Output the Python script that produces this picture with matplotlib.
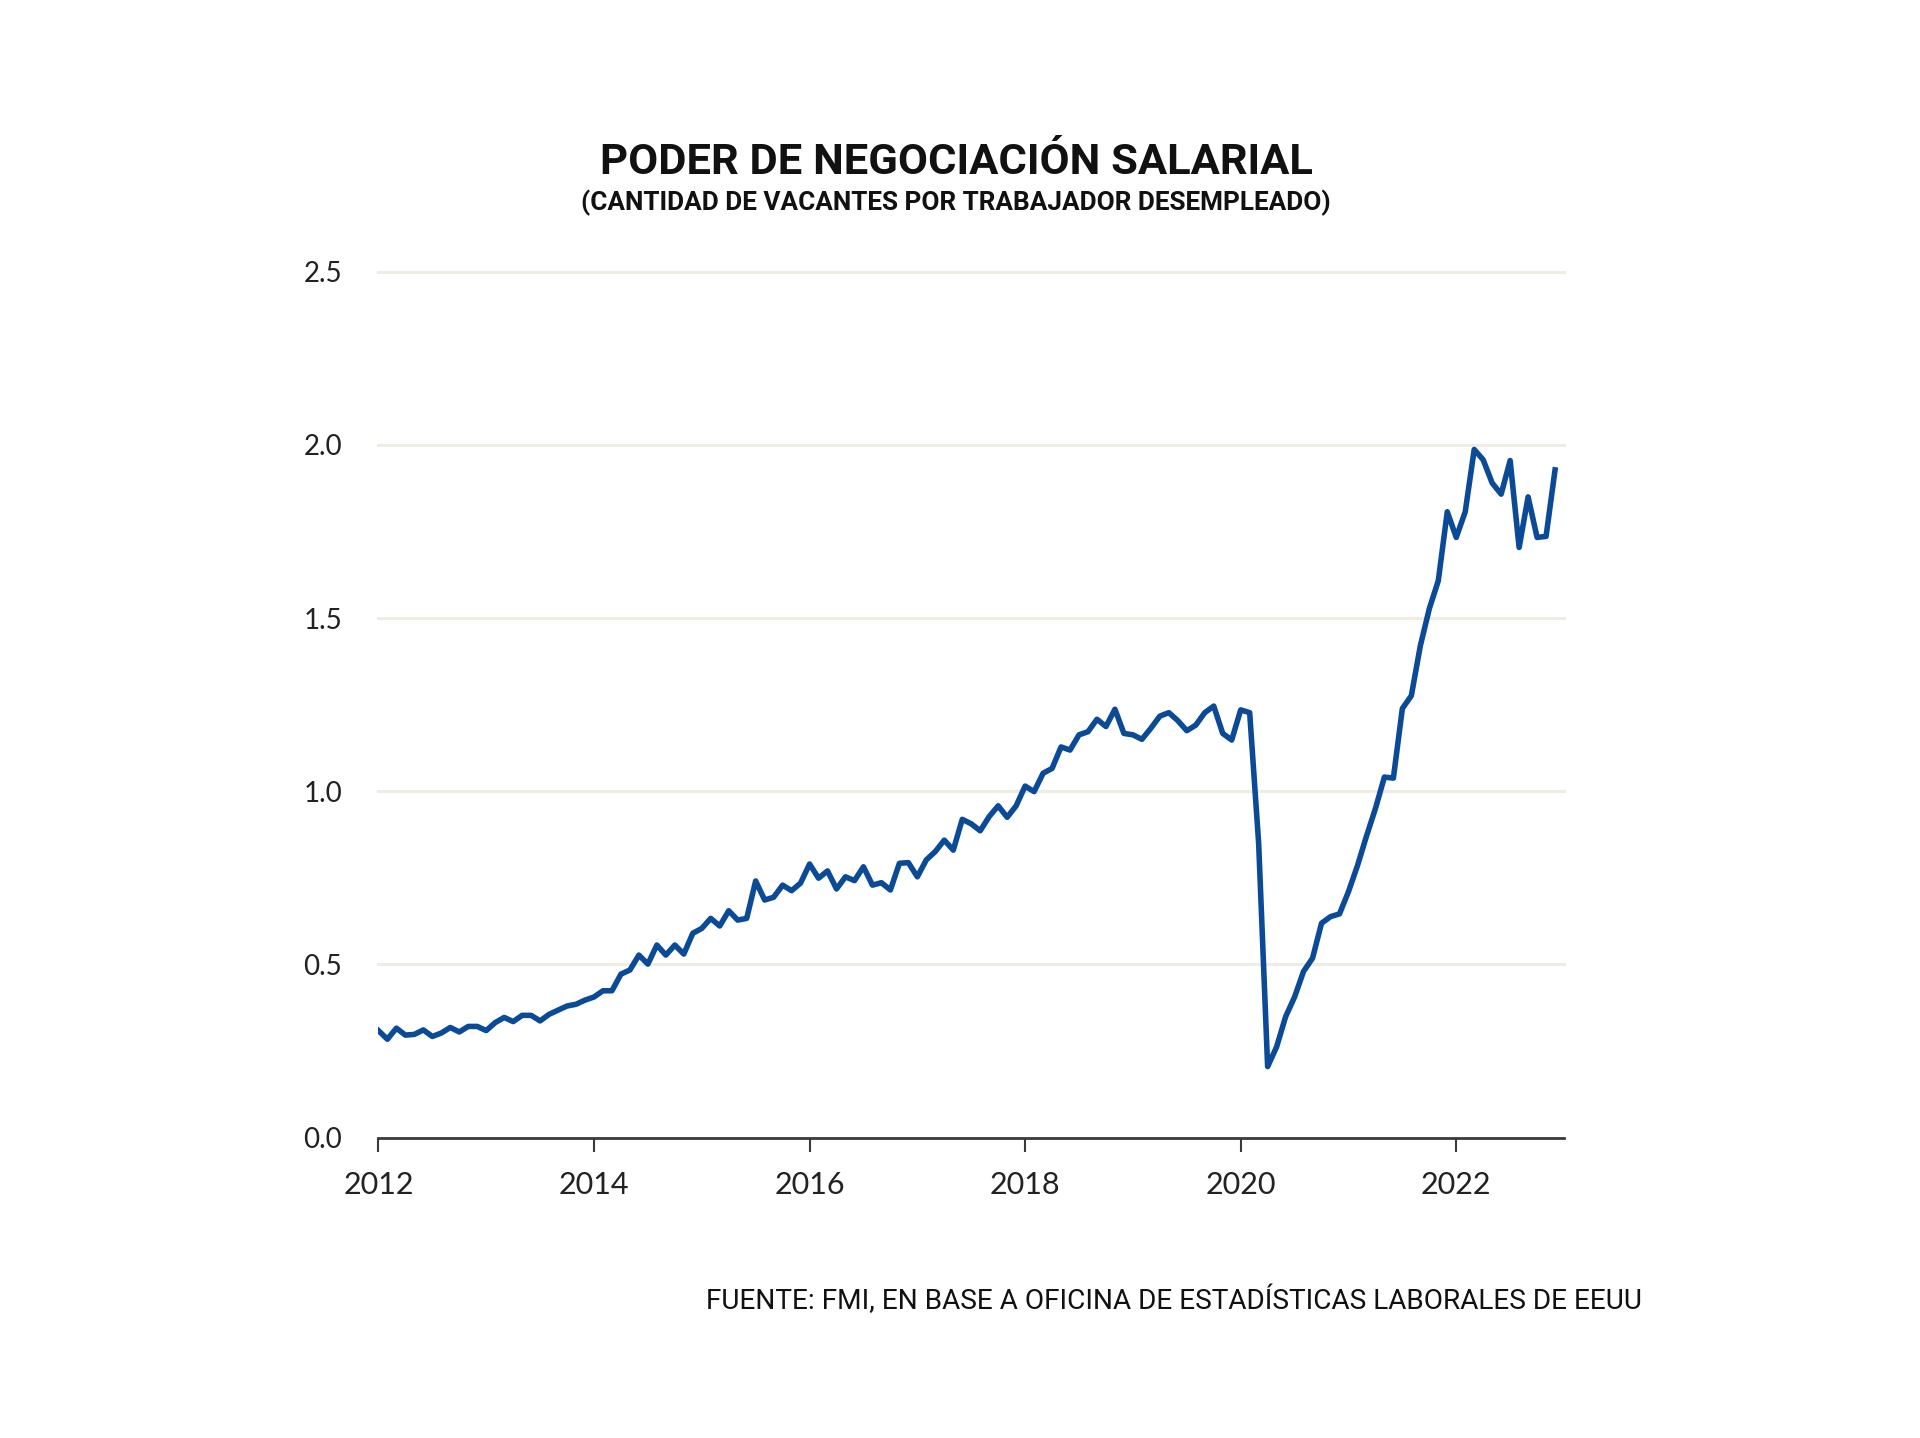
import numpy as np
import pandas as pd
import matplotlib
matplotlib.use('Agg')
import matplotlib.pyplot as plt

# vacantes por desempleado, mensual ene-2012 .. dic-2022
start_month = '2012-01'
values_2012 = [0.309, 0.284, 0.316, 0.296, 0.298, 0.311, 0.292, 0.302, 0.318, 0.305, 0.321, 0.321]
values_2013 = [0.309, 0.332, 0.347, 0.335, 0.353, 0.353, 0.337, 0.356, 0.368, 0.380, 0.385, 0.397]
values_2014 = [0.406, 0.424, 0.424, 0.472, 0.484, 0.527, 0.501, 0.556, 0.527, 0.556, 0.530, 0.590]
values_2015 = [0.604, 0.633, 0.611, 0.655, 0.628, 0.633, 0.741, 0.686, 0.694, 0.729, 0.713, 0.735]
values_2016 = [0.790, 0.749, 0.770, 0.718, 0.753, 0.742, 0.782, 0.729, 0.736, 0.715, 0.792, 0.794]
values_2017 = [0.753, 0.802, 0.826, 0.859, 0.830, 0.919, 0.906, 0.886, 0.927, 0.958, 0.925, 0.958]
values_2018 = [1.015, 0.999, 1.052, 1.066, 1.128, 1.119, 1.163, 1.172, 1.208, 1.187, 1.237, 1.167]
values_2019 = [1.163, 1.150, 1.182, 1.217, 1.227, 1.204, 1.175, 1.191, 1.227, 1.246, 1.167, 1.148]
values_2020 = [1.235, 1.227, 0.850, 0.205, 0.262, 0.349, 0.406, 0.480, 0.518, 0.619, 0.638, 0.646]
values_2021 = [0.710, 0.785, 0.870, 0.950, 1.041, 1.038, 1.239, 1.276, 1.420, 1.527, 1.608, 1.807]
values_2022 = [1.733, 1.807, 1.987, 1.957, 1.890, 1.858, 1.955, 1.704, 1.850, 1.733, 1.736, 1.928]

year_ticks = [2012, 2014, 2016, 2018, 2020, 2022]
y_ticks = [0.0, 0.5, 1.0, 1.5, 2.0, 2.5]

title = 'PODER DE NEGOCIACIÓN SALARIAL'
subtitle = '(CANTIDAD DE VACANTES POR TRABAJADOR DESEMPLEADO)'
source = 'FUENTE: FMI, EN BASE A OFICINA DE ESTADÍSTICAS LABORALES DE EEUU'

values = (values_2012 + values_2013 + values_2014 + values_2015 + values_2016 + values_2017
          + values_2018 + values_2019 + values_2020 + values_2021 + values_2022)
months = pd.period_range(start_month, periods=len(values), freq='M')
t = months.year + (months.month - 1) / 12.0

line_color = '#0a4a96'
grid_color = '#efece4'

fig = plt.figure(figsize=(19.2, 14.38), dpi=100)
ax = fig.add_axes([0.1971, 0.2089, 0.6175, 0.6021])

ax.plot(t, values, color=line_color, linewidth=4.0, solid_joinstyle='round', zorder=3)

ax.set_xlim(2012, 2023)
ax.set_ylim(0, 2.5)
ax.set_xticks(year_ticks)
ax.set_xticklabels([str(y) for y in year_ticks])
ax.set_yticks(y_ticks)
ax.set_yticklabels(['%.1f' % v for v in y_ticks])

for v in y_ticks[1:]:
    ax.axhline(v, color=grid_color, linewidth=2.2, zorder=1, clip_on=False)

for side in ['top', 'right', 'left']:
    ax.spines[side].set_visible(False)
ax.spines['bottom'].set_color('#3a3a3a')
ax.spines['bottom'].set_linewidth(2.0)

ax.tick_params(axis='x', direction='out', length=10, width=1.5, color='#3a3a3a',
               labelsize=22, labelcolor='#222222', pad=14)
ax.tick_params(axis='y', length=0, labelsize=20, labelcolor='#222222', pad=26)
for lbl in ax.get_xticklabels() + ax.get_yticklabels():
    lbl.set_family('Lato')

fig.text(0.498, 0.887, title, ha='center', va='center', fontsize=31.3,
         fontweight='bold', family='Roboto', color='#111111')
fig.text(0.498, 0.859, subtitle, ha='center', va='center', fontsize=18.8,
         fontweight='bold', family='Roboto', color='#111111')
fig.text(0.855, 0.096, source, ha='right', va='center', fontsize=20.2,
         family='Roboto', color='#111111')

fig.savefig('out.png', dpi=100, facecolor='white')
